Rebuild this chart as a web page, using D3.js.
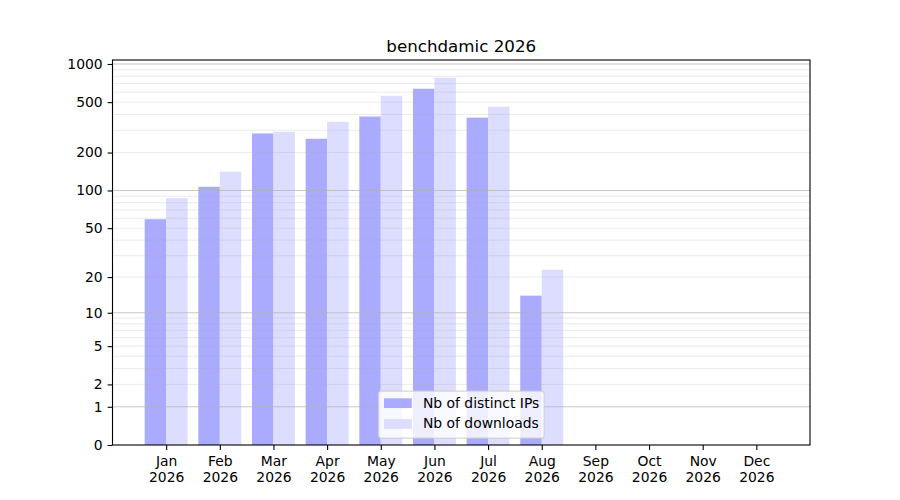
<!DOCTYPE html>
<html>
<head>
<meta charset="utf-8">
<script src="https://cdn.jsdelivr.net/npm/d3@7"></script>
<style>
  body { margin: 0; background: #fff; }
  text { font-family: "DejaVu Sans", sans-serif; fill: #000; }
</style>
</head>
<body>
<div id="chart"></div>
<script>
// Chart data
const months = ["Jan", "Feb", "Mar", "Apr", "May", "Jun", "Jul", "Aug", "Sep", "Oct", "Nov", "Dec"];
const year = "2026";
const distinctIPs = [59, 107, 283, 257, 385, 638, 377, 14, 0, 0, 0, 0];
const downloads = [87, 141, 292, 350, 561, 779, 460, 23, 0, 0, 0, 0];
const yTickValues = [0, 1, 2, 5, 10, 20, 50, 100, 200, 500, 1000];
const seriesNames = ["Nb of distinct IPs", "Nb of downloads"];
const seriesColors = ["#aaaaff", "#ddddff"];

(function () {
    // Layout (matplotlib default subplot box on a 900x500 figure)
    const W = 900, H = 500;
    const plotLeft = 112.5, plotRight = 810, plotTop = 60, plotBottom = 445;

    const svg = d3.select("#chart").append("svg")
        .attr("width", W)
        .attr("height", H);

    const x = d3.scaleLinear().domain([-1, 12]).range([plotLeft, plotRight]);
    const y = d3.scaleSymlog().constant(1).domain([0, 1075]).range([plotBottom, plotTop]);

    // Bars
    const barW = 0.4;
    [distinctIPs, downloads].forEach((series, s) => {
        svg.append("g").selectAll("rect")
            .data(series)
            .join("rect")
            .attr("x", (d, i) => x(i - barW + s * barW))
            .attr("width", x(barW) - x(0))
            .attr("y", d => y(d))
            .attr("height", d => y(0) - y(d))
            .attr("fill", seriesColors[s]);
    });

    // Grid lines drawn over the bars
    const majorGrid = [1, 10, 100, 1000];
    const minorGrid = [];
    [1, 10, 100].forEach(dec => {
        for (let k = 2; k <= 9; k++) minorGrid.push(k * dec);
    });
    svg.append("g").selectAll("line")
        .data(minorGrid)
        .join("line")
        .attr("x1", plotLeft).attr("x2", plotRight)
        .attr("y1", d => y(d)).attr("y2", d => y(d))
        .attr("stroke", "#b0b0b0")
        .attr("stroke-opacity", 0.25)
        .attr("stroke-width", 1);
    svg.append("g").selectAll("line")
        .data(majorGrid)
        .join("line")
        .attr("x1", plotLeft).attr("x2", plotRight)
        .attr("y1", d => y(d)).attr("y2", d => y(d))
        .attr("stroke", "#b0b0b0")
        .attr("stroke-opacity", 0.7)
        .attr("stroke-width", 1);

    // Axes
    const yAxis = d3.axisLeft(y)
        .tickValues(yTickValues)
        .tickFormat(d3.format("d"))
        .tickSize(4.9)
        .tickPadding(4.9);
    const gy = svg.append("g")
        .attr("transform", `translate(${plotLeft},0)`)
        .call(yAxis);

    const xAxis = d3.axisBottom(x)
        .tickValues(d3.range(months.length))
        .tickFormat(i => months[i])
        .tickSize(4.9)
        .tickPadding(6);
    const gx = svg.append("g")
        .attr("transform", `translate(0,${plotBottom})`)
        .call(xAxis);

    [gx, gy].forEach(g => {
        g.select(".domain").remove();
        g.selectAll(".tick line").attr("stroke", "#000").attr("stroke-width", 1.1);
        g.selectAll(".tick text")
            .style("font-family", "DejaVu Sans, sans-serif")
            .style("font-size", "13.9px")
            .attr("fill", "#000");
    });

    // Two-line month labels
    gx.selectAll(".tick text").each(function (i) {
        const t = d3.select(this);
        t.text(null);
        t.append("tspan").attr("x", 0).attr("dy", "0.75em").text(months[i]);
        t.append("tspan").attr("x", 0).attr("dy", "1.15em").text(year);
    });

    // Frame
    svg.append("rect")
        .attr("x", plotLeft).attr("y", plotTop)
        .attr("width", plotRight - plotLeft).attr("height", plotBottom - plotTop)
        .attr("fill", "none")
        .attr("stroke", "#000")
        .attr("stroke-width", 1.1);

    // Title
    svg.append("text")
        .attr("x", (plotLeft + plotRight) / 2)
        .attr("y", plotTop - 8.3)
        .attr("text-anchor", "middle")
        .style("font-size", "16.7px")
        .text("benchdamic 2026");

    // Legend (lower center)
    const fs = 13.9;
    const legW = 165.7, legH = 47;
    const legX = (plotLeft + plotRight) / 2 - legW / 2;
    const legY = plotBottom - 6.9 - legH;
    const leg = svg.append("g").attr("transform", `translate(${legX},${legY})`);
    leg.append("rect")
        .attr("width", legW).attr("height", legH)
        .attr("rx", 2.8)
        .attr("fill", "#fff").attr("fill-opacity", 0.8)
        .attr("stroke", "#cccccc").attr("stroke-opacity", 0.8)
        .attr("stroke-width", 1.1);
    seriesNames.forEach((name, s) => {
        const rowY = 5.6 + s * (fs + 6.9);
        leg.append("rect")
            .attr("x", 5.6).attr("y", rowY + 1.6)
            .attr("width", 2 * fs).attr("height", 0.7 * fs)
            .attr("fill", seriesColors[s]);
        leg.append("text")
            .attr("x", 5.6 + 2 * fs + 0.8 * fs)
            .attr("y", rowY + fs * 0.78)
            .style("font-size", fs + "px")
            .text(name);
    });
})();
</script>
</body>
</html>
